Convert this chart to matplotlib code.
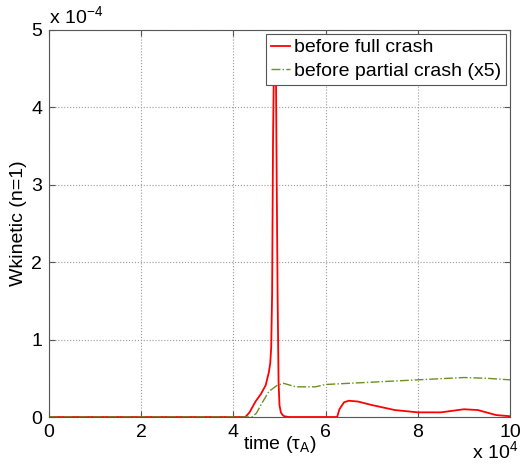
import numpy as np
import matplotlib
matplotlib.use("Agg")
import matplotlib.pyplot as plt

plt.rcParams['font.family'] = ['Liberation Sans', 'DejaVu Sans']
plt.rcParams['mathtext.fontset'] = 'custom'
plt.rcParams['mathtext.rm'] = 'Liberation Sans'

# time in units of 1e4, energies in units of 1e-4
t_full = [0.0, 2.0, 4.0, 4.26, 4.35, 4.48, 4.6, 4.7, 4.77, 4.8, 4.82, 4.84, 4.86, 4.88,
          4.9, 4.92, 4.94, 4.96, 4.98, 5.0, 5.03, 5.06, 5.1, 5.2, 6.0, 6.25, 6.3, 6.4,
          6.5, 6.7, 7.0, 7.5, 8.0, 8.5, 9.0, 9.3, 9.7, 10.0]
w_full = [0.0, 0.0, 0.0, 0.0, 0.06, 0.2, 0.3, 0.41, 0.58, 0.7, 0.9, 1.6, 3.6, 4.6,
          4.3, 4.7, 3.0, 1.5, 0.45, 0.15, 0.06, 0.03, 0.01, 0.0, 0.0, 0.0, 0.1, 0.19,
          0.21, 0.2, 0.155, 0.09, 0.06, 0.06, 0.1, 0.09, 0.025, 0.01]

t_part = [0.0, 2.0, 4.0, 4.4, 4.5, 4.62, 4.77, 4.95, 5.09, 5.35, 5.78, 6.0, 7.0,
          8.0, 9.0, 9.5, 10.0]
w_part = [0.0, 0.0, 0.0, 0.0, 0.05, 0.18, 0.33, 0.41, 0.435, 0.39, 0.39, 0.42, 0.45,
          0.48, 0.51, 0.5, 0.48]

fig = plt.figure(figsize=(5.2, 4.66), dpi=100)
ax = fig.add_axes([49/520, 49/466, 461/520, 387/466])

ax.plot(np.array(t_full), np.array(w_full), color='red', lw=1.3, label='before full crash')
ax.plot(np.array(t_part), np.array(w_part), color='#6b9023', lw=1.0, ls='-.',
        label='before partial crash (x5)')

ax.set_xlim(0, 10)
ax.set_ylim(0, 5)
ax.set_xticks([0, 2, 4, 6, 8, 10])
ax.set_yticks([0, 1, 2, 3, 4, 5])
ax.tick_params(direction='in', top=True, right=True, labelsize=14, length=4,
               color='#555555', pad=5)
for s in ax.spines.values():
    s.set_color('#555555')
ax.grid(True, ls=':', color='#999999', lw=0.8)

ax.set_xlabel(r'time ($\mathrm{\tau_A}$)', fontsize=14, labelpad=-5)
ax.set_ylabel('Wkinetic (n=1)', fontsize=14, labelpad=3)

ax.text(0.0, 1.005, r'x 10$^{\mathregular{-4}}$', transform=ax.transAxes,
        fontsize=14, va='bottom', ha='left')
ax.text(1.017, -0.062, r'x 10$^{\mathregular{4}}$', transform=ax.transAxes,
        fontsize=14, va='top', ha='right')

leg = ax.legend(loc='upper right', fontsize=14, frameon=True, fancybox=False,
                handlelength=1.0, handletextpad=0.2, borderpad=0.25,
                labelspacing=0.3, borderaxespad=0.2)
leg.get_frame().set_edgecolor('#555555')
leg.get_frame().set_linewidth(0.8)
leg.get_frame().set_alpha(1.0)

fig.savefig('out.png', dpi=100)
